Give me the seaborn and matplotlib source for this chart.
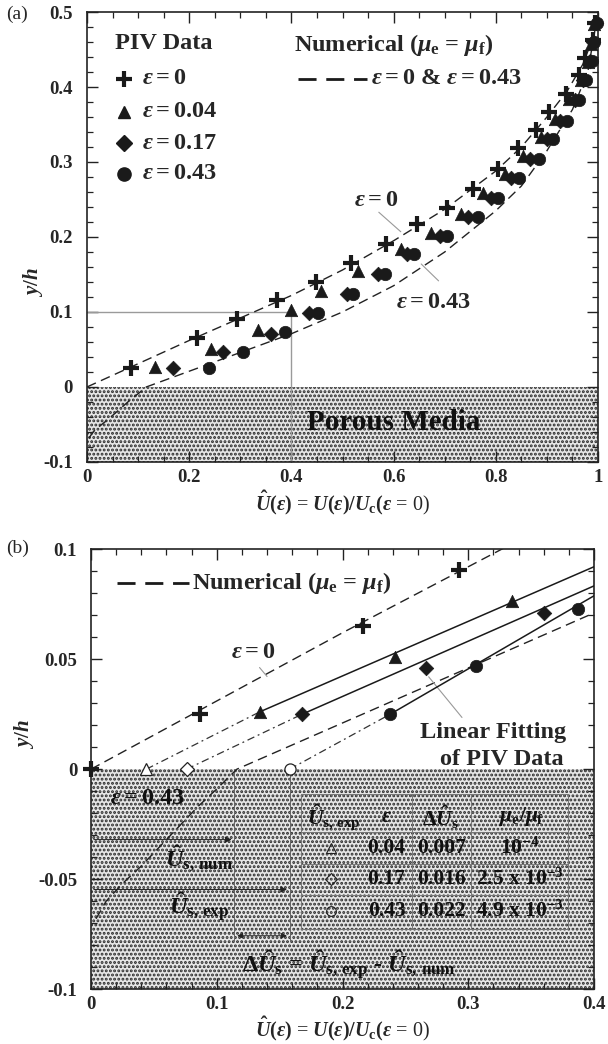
import numpy as np
import matplotlib
matplotlib.use("Agg")
import matplotlib.pyplot as plt
import seaborn as sns

# ---------------------------------------------------------
# PIV data, x = U_hat, y = y/h
# ---------------------------------------------------------
eps0_x = [0.087, 0.216, 0.293, 0.372, 0.4475, 0.516, 0.585, 0.645, 0.705, 0.755,
          0.804, 0.843, 0.878, 0.905, 0.938, 0.963, 0.975, 0.990, 0.995]
eps0_y = [0.025, 0.065, 0.0906, 0.1155, 0.140, 0.1656, 0.191, 0.2168, 0.239, 0.2637,
          0.2905, 0.318, 0.342, 0.3664, 0.391, 0.4155, 0.4386, 0.4623, 0.486]

eps004_x = [0.134, 0.242, 0.335, 0.399, 0.458, 0.531, 0.614, 0.673, 0.732, 0.775,
            0.817, 0.853, 0.889, 0.915, 0.944, 0.967, 0.980, 0.987, 0.993]
eps004_y = [0.026, 0.051, 0.0763, 0.102, 0.1276, 0.154, 0.184, 0.2057, 0.231, 0.258,
            0.284, 0.308, 0.333, 0.357, 0.384, 0.409, 0.433, 0.458, 0.484]

eps017_x = [0.168, 0.266, 0.360, 0.434, 0.508, 0.570, 0.626, 0.690, 0.745, 0.790,
            0.830, 0.866, 0.900, 0.926, 0.955, 0.970, 0.984, 0.990, 0.996]
eps017_y = [0.025, 0.046, 0.071, 0.0986, 0.1245, 0.150, 0.1767, 0.2015, 0.227, 0.2525,
            0.279, 0.304, 0.331, 0.355, 0.382, 0.409, 0.435, 0.460, 0.485]

eps043_x = [0.238, 0.306, 0.387, 0.4527, 0.521, 0.584, 0.640, 0.705, 0.765, 0.805,
            0.845, 0.885, 0.912, 0.940, 0.962, 0.977, 0.988, 0.993, 0.998]
eps043_y = [0.025, 0.0468, 0.073, 0.0986, 0.1245, 0.150, 0.1767, 0.2015, 0.227, 0.2525,
            0.279, 0.304, 0.331, 0.355, 0.382, 0.409, 0.435, 0.460, 0.485]

# numerical profiles (mu_e = mu_f)
num0_x = [0.0, 0.1, 0.2, 0.3, 0.4, 0.5, 0.6, 0.7, 0.8, 0.85, 0.9, 0.94, 0.97, 0.99, 1.0]
num0_y = [0.0, 0.031, 0.062, 0.092, 0.122, 0.156, 0.195, 0.237, 0.288, 0.32, 0.36, 0.395, 0.43, 0.465, 0.5]

num043_x = [0.004, 0.012, 0.025, 0.04, 0.055, 0.07, 0.085, 0.1, 0.116, 0.2, 0.3, 0.4, 0.5,
            0.6, 0.7, 0.8, 0.85, 0.9, 0.95, 0.98, 1.0]
num043_y = [-0.068, -0.06, -0.052, -0.044, -0.035, -0.026, -0.017, -0.009, 0.0, 0.021, 0.046,
            0.071, 0.1, 0.135, 0.18, 0.235, 0.268, 0.315, 0.37, 0.42, 0.5]

# panel (b): slip velocities (open markers) and linear fits
slip_x = [0.044, 0.076, 0.158]
fit_start_x = [0.134, 0.168, 0.238]
fit_start_y = [0.026, 0.025, 0.025]
fit_end_y = [0.092, 0.0833, 0.0788]
us_num = 0.114

table_eps = ["0.04", "0.17", "0.43"]
table_dus = ["0.007", "0.016", "0.022"]
table_mu = [r"$10^{-4}$", r"2.5 x $10^{-3}$", r"4.9 x $10^{-3}$"]

porous_top, porous_bottom = 0.0, -0.1

sns.set_theme(style="ticks")
plt.rcParams["font.family"] = ["Liberation Serif", "DejaVu Serif"]
plt.rcParams["font.weight"] = "bold"
plt.rcParams["mathtext.fontset"] = "custom"
plt.rcParams["mathtext.rm"] = "Liberation Serif:bold"
plt.rcParams["mathtext.bf"] = "Liberation Serif:bold"
plt.rcParams["mathtext.it"] = "Liberation Serif:italic:bold"
plt.rcParams["hatch.linewidth"] = 1.4
plt.rcParams["axes.linewidth"] = 1.2

fig = plt.figure(figsize=(6.08, 10.44), dpi=100)
ax1 = fig.add_axes([0.1431, 0.5575, 0.8405, 0.4310])
ax2 = fig.add_axes([0.1497, 0.0525, 0.8273, 0.4215])

DASH = (0, (7, 4))
DASHDOT = (0, (6, 3, 1.5, 3))
FS = 17.5
TFS = 15.5

series = [(eps0_x, eps0_y, "P"), (eps004_x, eps004_y, "^"),
          (eps017_x, eps017_y, "D"), (eps043_x, eps043_y, "o")]
msize = {"P": 0, "^": 80, "D": 55, "o": 80}


def style_axis(ax, xmaj, xmin, ymaj, ymin):
    ax.xaxis.set_major_locator(matplotlib.ticker.MultipleLocator(xmaj))
    ax.xaxis.set_minor_locator(matplotlib.ticker.MultipleLocator(xmin))
    ax.yaxis.set_major_locator(matplotlib.ticker.MultipleLocator(ymaj))
    ax.yaxis.set_minor_locator(matplotlib.ticker.MultipleLocator(ymin))
    ax.tick_params(which="both", direction="in", top=True, right=True, color="#222")
    ax.tick_params(which="major", length=8, width=1, labelsize=13.5)
    ax.tick_params(which="minor", length=4.5, width=0.9)
    ax.tick_params(axis="y", pad=10)
    ax.tick_params(axis="x", pad=5)
    fmt = matplotlib.ticker.FuncFormatter(lambda v, p: ("%g" % round(v, 3)))
    ax.xaxis.set_major_formatter(fmt)
    ax.yaxis.set_major_formatter(fmt)
    for s in ax.spines.values():
        s.set_visible(True)
        s.set_color("#222")


def draw_data(ax, xmax, ymax):
    ax.axhspan(porous_bottom, porous_top, facecolor="#e6e6e6", edgecolor="#2a2a2a",
               hatch="....", linewidth=0, zorder=0)
    ax.plot(num0_x, num0_y, color="#222", lw=1.0, ls=DASH, zorder=2)
    ax.plot(num043_x, num043_y, color="#222", lw=1.0, ls=DASH, zorder=2)
    for xs, ys, m in series:
        keep = [i for i in range(len(xs)) if xs[i] <= xmax and ys[i] <= ymax]
        xx = [xs[i] for i in keep]
        yy = [ys[i] for i in keep]
        if m == "P":
            ax.plot(xx, yy, ls="none", marker="+", ms=12, mew=3.0, color="k", zorder=4,
                    clip_on=False)
        else:
            sns.scatterplot(x=xx, y=yy, marker=m, s=msize[m], color="k", clip_on=False,
                            edgecolor="k", linewidth=0.5, ax=ax, legend=False, zorder=4)


# ---------------------------------------------------------
# Panel (a)
# ---------------------------------------------------------
draw_data(ax1, 1.0, 0.5)
ax1.plot([0, 0.4, 0.4], [0.1, 0.1, -0.1], color="#9a9a9a", lw=1.0, zorder=1)
ax1.set_xlim(0, 1)
ax1.set_ylim(-0.1, 0.5)
style_axis(ax1, 0.2, 0.05, 0.1, 0.02)

ax1.text(0.15, 0.458, "PIV Data", ha="center", va="center", fontsize=FS)
leg_y = [0.411, 0.367, 0.325, 0.284]
leg_lab = [r"$\varepsilon = 0$", r"$\varepsilon = 0.04$", r"$\varepsilon = 0.17$", r"$\varepsilon = 0.43$"]
for (xs, ys, m), ly, lab in zip(series, leg_y, leg_lab):
    if m == "P":
        ax1.plot([0.073], [ly], marker="+", ms=12, mew=3.0, color="k")
    else:
        ax1.plot([0.073], [ly], marker=m, ms={"^": 9, "D": 8, "o": 9.5}[m], color="k")
    ax1.text(0.108, ly, lab, ha="left", va="center", fontsize=FS)

ax1.text(0.60, 0.4556, r"Numerical ($\mu_{\rm e}$ = $\mu_{\rm f}$)", ha="center", va="center", fontsize=FS)
ax1.plot([0.413, 0.548], [0.411, 0.411], color="k", lw=2, ls=(0, (6.5, 3.5)))
ax1.text(0.556, 0.411, r"$\varepsilon = 0$ & $\varepsilon = 0.43$", ha="left", va="center", fontsize=FS)

ax1.text(0.566, 0.249, r"$\varepsilon = 0$", ha="center", va="center", fontsize=FS)
ax1.plot([0.571, 0.614], [0.233, 0.207], color="#999", lw=0.8)
ax1.text(0.678, 0.1125, r"$\varepsilon = 0.43$", ha="center", va="center", fontsize=FS)
ax1.plot([0.688, 0.654], [0.1415, 0.164], color="#999", lw=0.8)
ax1.text(0.60, -0.048, "Porous Media", ha="center", va="center", fontsize=21, color="#111")

ax1.set_xlabel(r"$\hat{U}(\varepsilon)$ = $U(\varepsilon)/U_{\rm c}(\varepsilon$ = 0)", fontsize=14.5, labelpad=2)
ax1.set_ylabel(r"$y/h$", fontsize=15)
ax1.yaxis.set_label_coords(-0.082, 0.40)
fig.text(6 / 608, 1 - 14 / 1044, "(a)", fontsize=14, fontweight="normal", va="center", ha="left")

# ---------------------------------------------------------
# Panel (b)
# ---------------------------------------------------------
draw_data(ax2, 0.4, 0.1)
for sx, fx, fy, ey in zip(slip_x, fit_start_x, fit_start_y, fit_end_y):
    ax2.plot([sx, fx], [0, fy], color="#333", lw=0.9, ls=DASHDOT, zorder=2)
    ax2.plot([fx, 0.4], [fy, ey], color="k", lw=1.1, zorder=3)
ax2.plot([0], [0], ls="none", marker="+", ms=12, mew=3.0, color="k", clip_on=False, zorder=5)
for sx, m in zip(slip_x, ["^", "D", "o"]):
    ax2.plot([sx], [0], ls="none", marker=m, ms={"^": 8, "D": 7, "o": 8}[m], mfc="white",
             mec="#222", mew=0.9, zorder=5)
ax2.set_xlim(0, 0.4)
ax2.set_ylim(-0.1, 0.1)
style_axis(ax2, 0.1, 0.02, 0.05, 0.01)

ax2.plot([0.021, 0.078], [0.0848, 0.0848], color="k", lw=2, ls=(0, (6.5, 3.5)))
ax2.text(0.0805, 0.0848, r"Numerical ($\mu_{\rm e}$ = $\mu_{\rm f}$)", ha="left", va="center", fontsize=FS)
ax2.text(0.129, 0.053, r"$\varepsilon = 0$", ha="center", va="center", fontsize=FS)
ax2.plot([0.134, 0.140], [0.0462, 0.0421], color="#999", lw=0.8)
ax2.text(0.378, 0.0167, "Linear Fitting", ha="right", va="center", fontsize=FS)
ax2.text(0.376, 0.0045, "of PIV Data", ha="right", va="center", fontsize=FS)
ax2.plot([0.295, 0.2685], [0.0235, 0.042], color="#999", lw=0.8)

# slip velocity construction inside porous layer
ax2.text(0.045, -0.0135, r"$\varepsilon = 0.43$", ha="center", va="center", fontsize=FS, color="#111")
ax2.plot([us_num, us_num], [0, -0.078], color="#666", lw=0.7, zorder=1)
ax2.plot([slip_x[2], slip_x[2]], [0, -0.078], color="#666", lw=0.7, zorder=1)
ax2.annotate("", xy=(us_num, -0.032), xytext=(0, -0.032),
             arrowprops=dict(arrowstyle="-|>", color="#222", lw=0.7, mutation_scale=9))
ax2.annotate("", xy=(slip_x[2], -0.0547), xytext=(0, -0.0547),
             arrowprops=dict(arrowstyle="-|>", color="#222", lw=0.7, mutation_scale=9))
ax2.annotate("", xy=(us_num, -0.0757), xytext=(slip_x[2], -0.0757),
             arrowprops=dict(arrowstyle="<|-|>", color="#222", lw=0.7, mutation_scale=8))
ax2.text(0.086, -0.0405, r"$\hat{U}_{\rm s,\,num}$", ha="center", va="center", fontsize=FS, color="#111")
ax2.text(0.086, -0.063, r"$\hat{U}_{\rm s,\,exp}$", ha="center", va="center", fontsize=FS, color="#111")
ax2.text(0.205, -0.089, r"$\Delta\hat{U}_{\rm s}$ = $\hat{U}_{\rm s,\,exp}$ - $\hat{U}_{\rm s,\,num}$",
         ha="center", va="center", fontsize=FS, color="#111")

# table
tcol = [0.167, 0.255, 0.302, 0.379]
trow = [-0.0112, -0.0285, -0.043, -0.057, -0.0727]
for ty in trow:
    ax2.plot([tcol[0], tcol[-1]], [ty, ty], color="#777", lw=0.7, zorder=1)
for tx in tcol:
    ax2.plot([tx, tx], [trow[0], trow[-1]], color="#777", lw=0.7, zorder=1)
hdr_y = -0.0217
row_y = [-0.036, -0.050, -0.0644]
ax2.text(0.193, hdr_y, r"$\hat{U}_{\rm s,\,exp}$", ha="center", va="center", fontsize=TFS, color="#111")
ax2.text(0.235, hdr_y, r"$\varepsilon$", ha="center", va="center", fontsize=TFS, color="#111")
ax2.text(0.278, hdr_y, r"$\Delta\hat{U}_{\rm s}$", ha="center", va="center", fontsize=TFS, color="#111")
ax2.text(0.342, hdr_y, r"$\mu_{\rm e}/\mu_{\rm f}$", ha="center", va="center", fontsize=TFS, color="#111")
for ry, m, e, d, mu in zip(row_y, ["^", "D", "o"], table_eps, table_dus, table_mu):
    ax2.plot([0.1906], [ry], marker=m, ms={"^": 7, "D": 6, "o": 7}[m], mfc="none", mec="#222", mew=0.8)
    ax2.text(0.235, ry, e, ha="center", va="center", fontsize=TFS, color="#111")
    ax2.text(0.279, ry, d, ha="center", va="center", fontsize=TFS, color="#111")
    ax2.text(0.341, ry, mu, ha="center", va="center", fontsize=TFS, color="#111")

ax2.set_xlabel(r"$\hat{U}(\varepsilon)$ = $U(\varepsilon)/U_{\rm c}(\varepsilon$ = 0)", fontsize=14.5, labelpad=1)
ax2.set_ylabel(r"$y/h$", fontsize=15)
ax2.yaxis.set_label_coords(-0.11, 0.58)
fig.text(6 / 608, 1 - 548 / 1044, "(b)", fontsize=14, fontweight="normal", va="center", ha="left")

fig.savefig("out.png", dpi=100)
